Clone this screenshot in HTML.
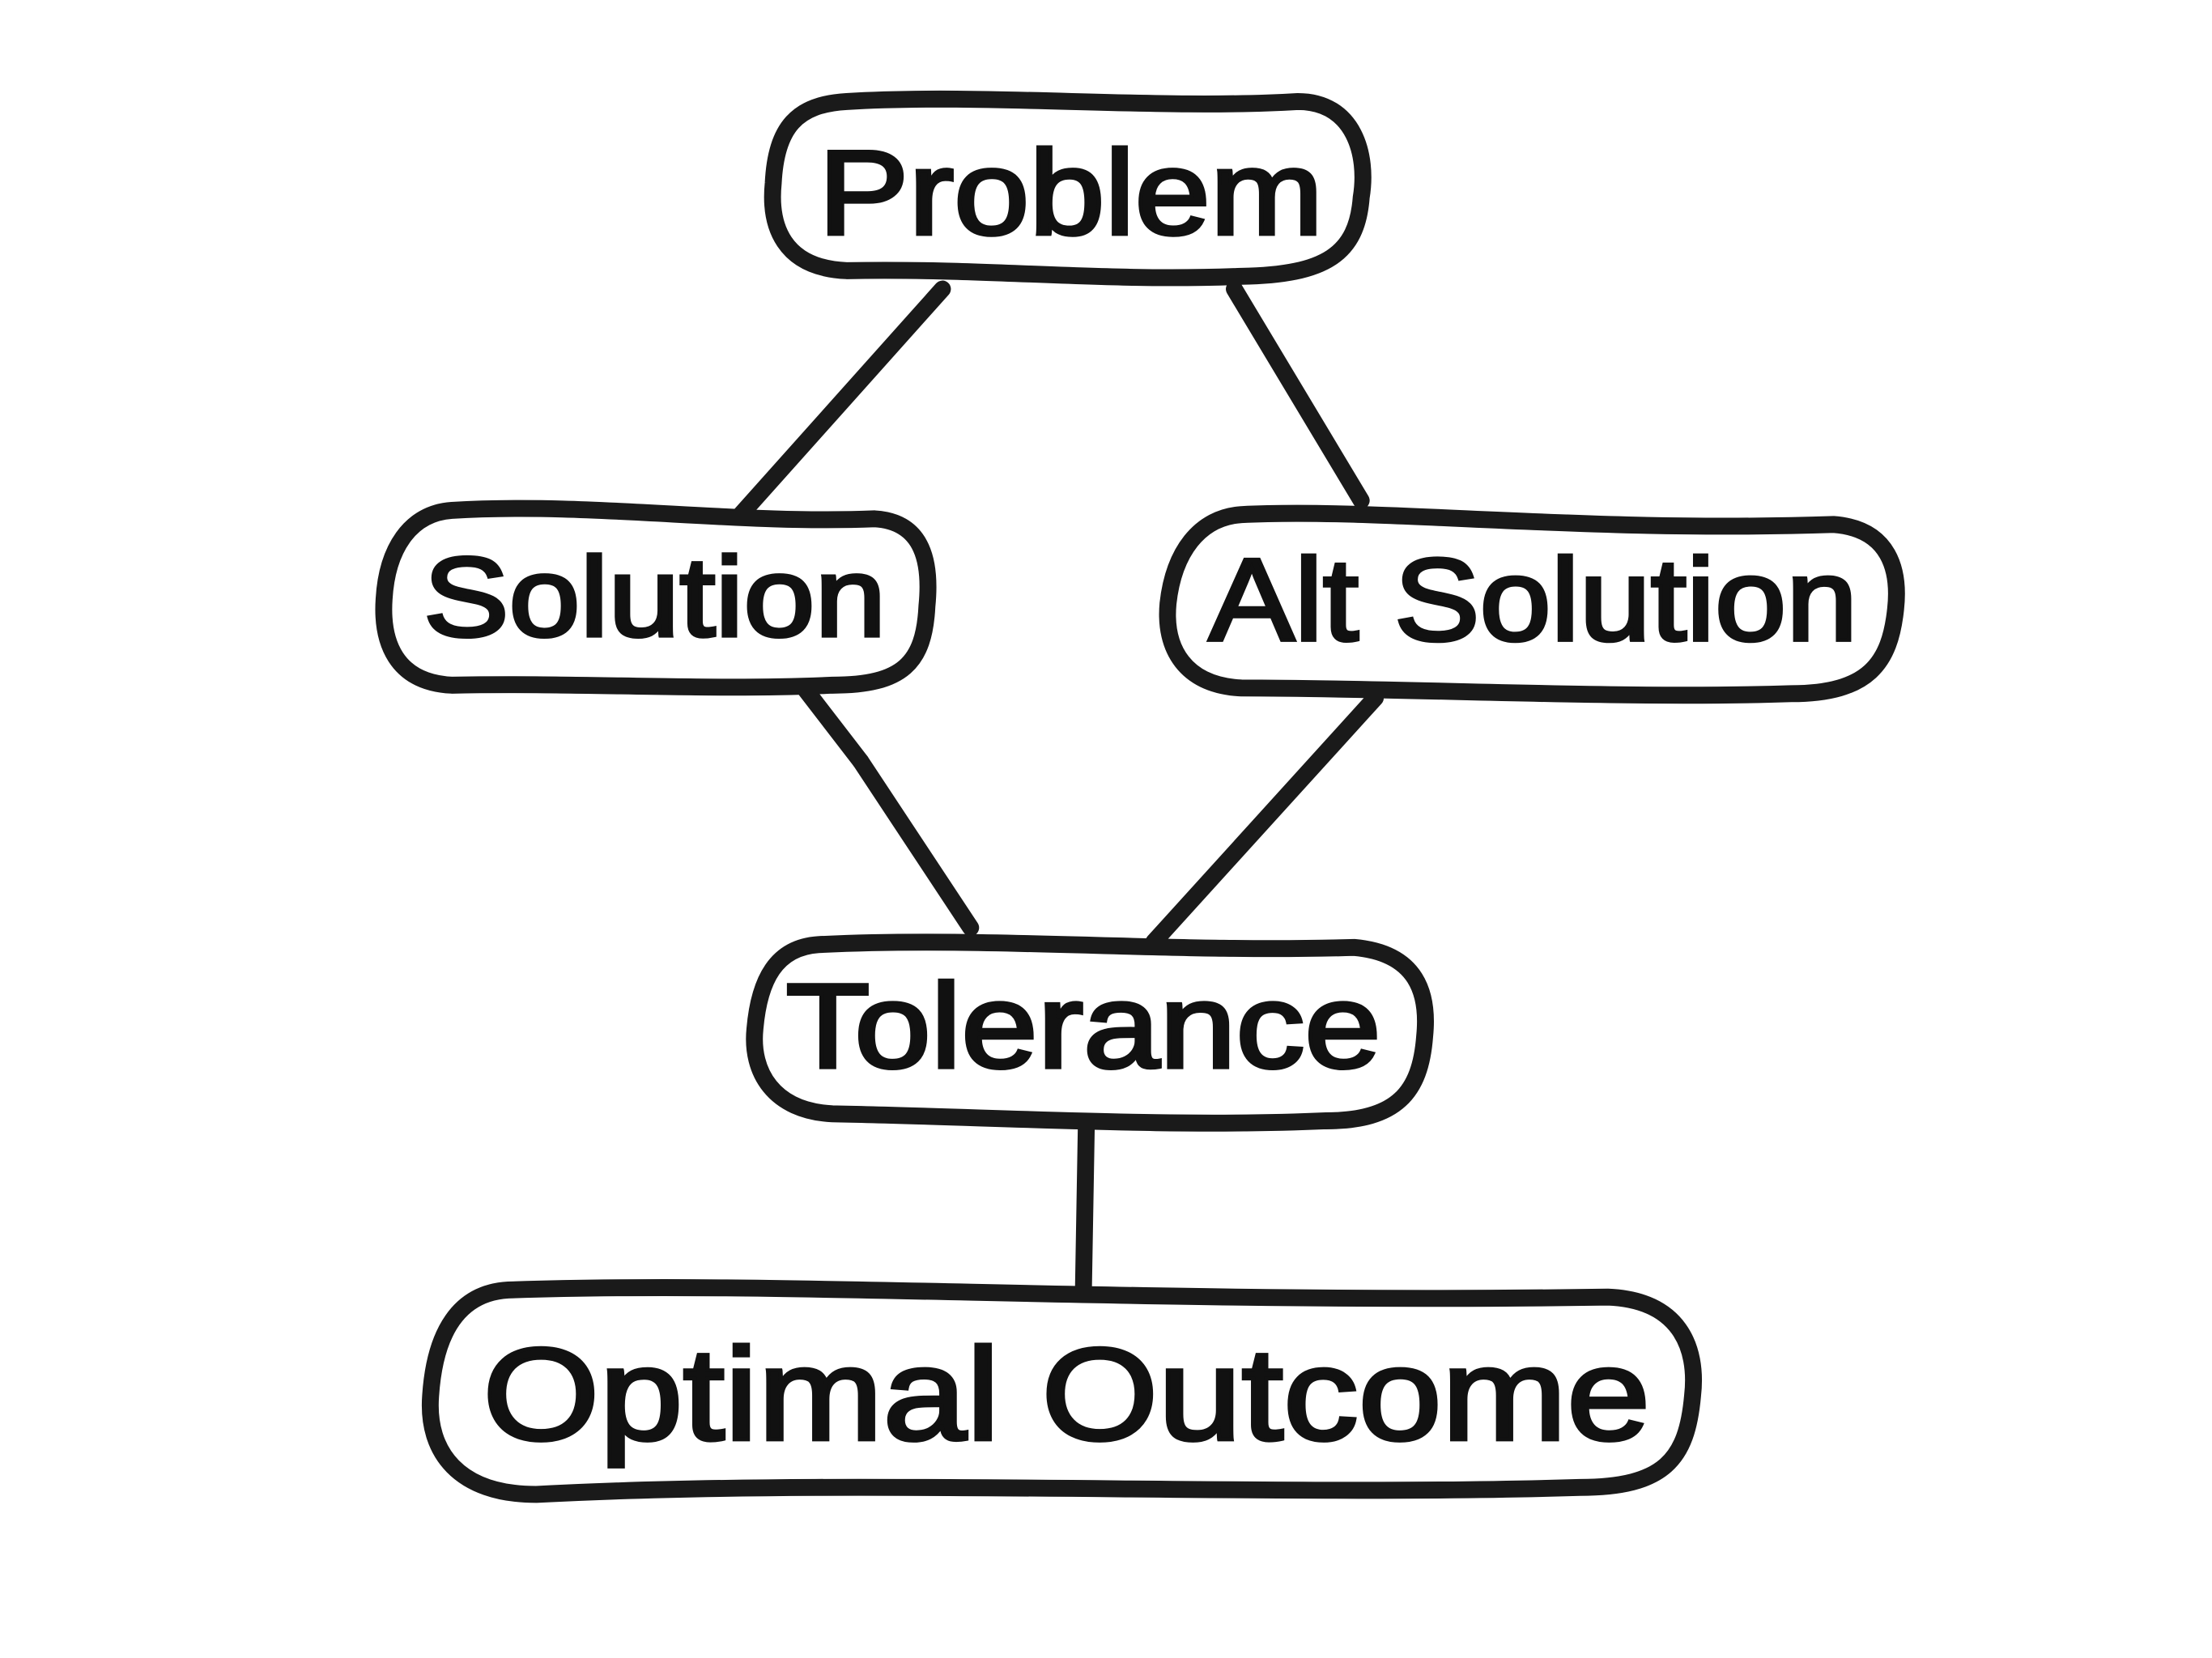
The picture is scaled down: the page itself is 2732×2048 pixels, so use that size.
<!DOCTYPE html>
<html><head><meta charset="utf-8"><style>
html,body{margin:0;padding:0;background:#fff;}
svg{display:block;}
text{font-family:"Liberation Sans",sans-serif;font-weight:normal;fill:#111;stroke:#111;stroke-width:2.6;}
</style></head><body>
<svg width="2732" height="2048" viewBox="0 0 1568 1176" xmlns="http://www.w3.org/2000/svg">
<g stroke="#1a1a1a" stroke-width="12" stroke-linecap="round" fill="none">
<line x1="668" y1="205" x2="525" y2="365"/>
<line x1="875" y1="205" x2="965" y2="355"/>
<line x1="570" y1="488" x2="610" y2="540"/>
<line x1="610" y1="540" x2="688" y2="658"/>
<line x1="975" y1="495" x2="818" y2="668"/>
<line x1="770" y1="800" x2="768" y2="915"/>
</g>
<g stroke="#1a1a1a" stroke-width="12" fill="#fff">
<path d="M600,72 C700,66 820,78 920,72 C960,72 970,110 965,140 C962,180 940,195 880,196 C780,200 700,190 600,192 C555,190 545,160 548,130 C550,90 565,74 600,72 Z"/>
<path d="M320,362 C420,356 520,372 620,368 C655,370 660,400 657,430 C655,470 640,486 590,486 C500,490 410,484 320,486 C280,484 270,455 272,425 C274,390 290,364 320,362 Z"/>
<path d="M880,365 C980,360 1120,378 1300,372 C1340,375 1347,405 1344,432 C1340,470 1325,492 1270,492 C1150,496 1000,488 880,488 C840,486 825,460 828,428 C832,392 850,367 880,365 Z"/>
<path d="M580,670 C700,664 830,676 960,672 C1005,676 1013,705 1010,735 C1007,775 990,795 940,795 C830,800 700,792 590,790 C548,788 532,760 535,730 C538,695 550,672 580,670 Z"/>
<path d="M360,915 C560,908 800,925 1140,920 C1190,922 1204,955 1200,990 C1196,1035 1180,1055 1120,1055 C900,1062 600,1048 380,1060 C325,1060 302,1030 305,990 C308,945 325,917 360,915 Z"/>
</g>
<text x="580" y="166" font-size="85" textLength="358" lengthAdjust="spacingAndGlyphs">Problem</text>
<text x="300" y="451" font-size="80" textLength="328" lengthAdjust="spacingAndGlyphs">Solution</text>
<text x="857" y="454" font-size="83" textLength="460" lengthAdjust="spacingAndGlyphs">Alt Solution</text>
<text x="557" y="757" font-size="85" textLength="422" lengthAdjust="spacingAndGlyphs">Tolerance</text>
<text x="342" y="1021" font-size="93" textLength="828" lengthAdjust="spacingAndGlyphs">Optimal Outcome</text>
</svg>
</body></html>
